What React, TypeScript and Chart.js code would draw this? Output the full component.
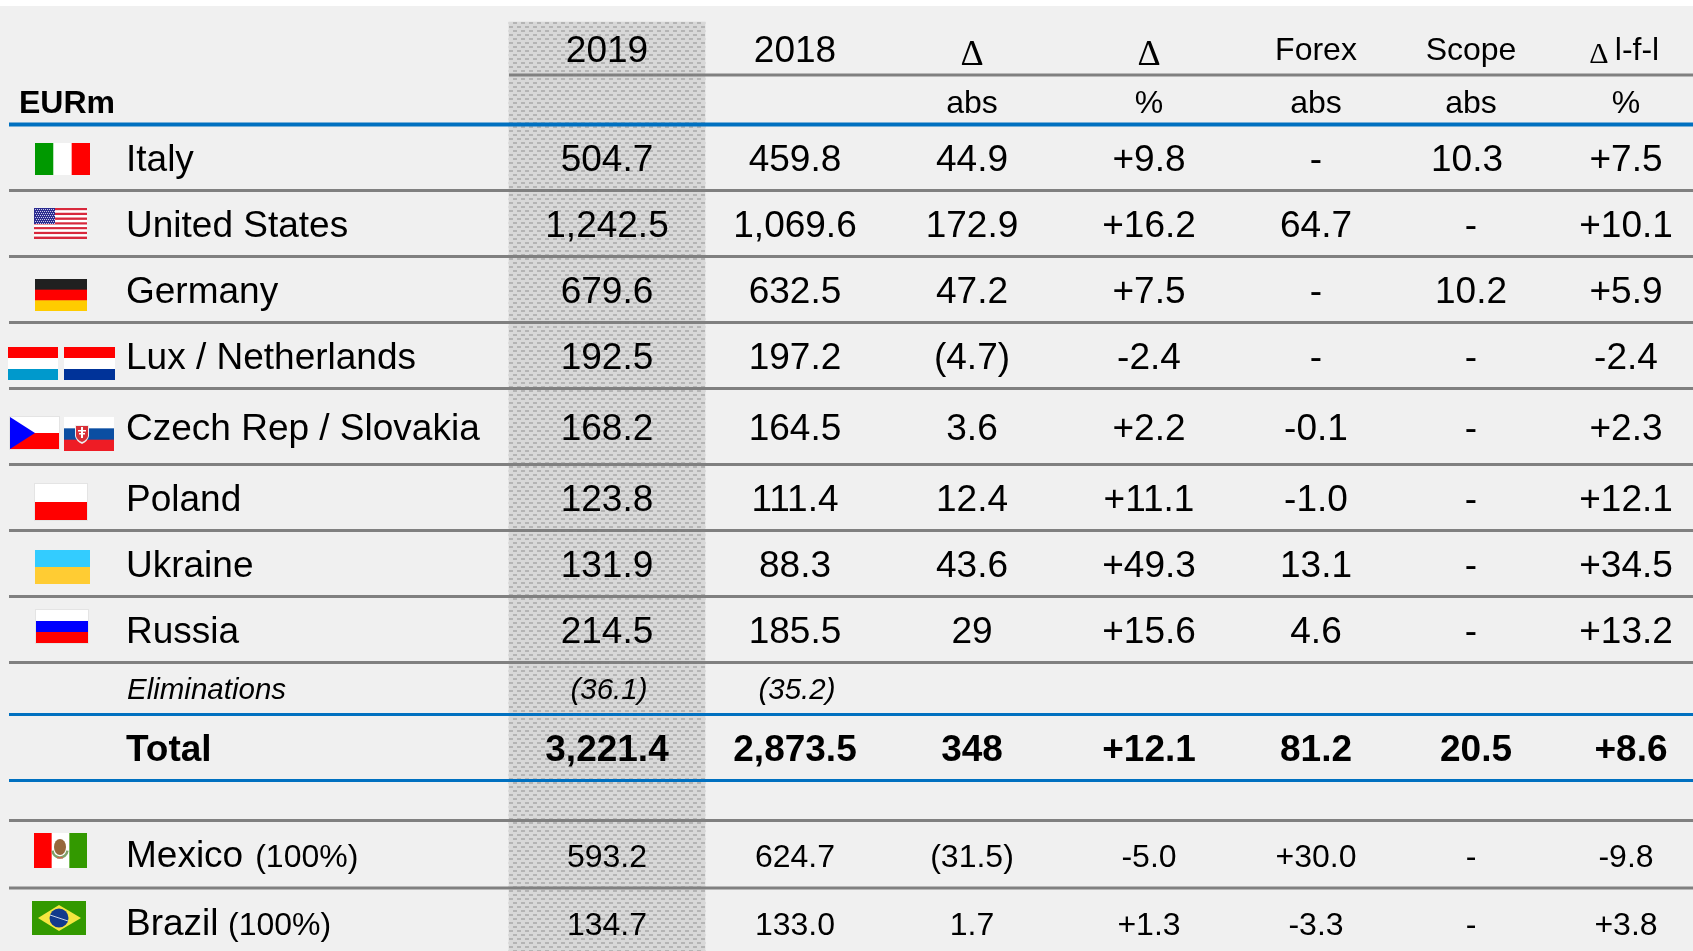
import React, { useEffect, useRef } from "react";
import { Chart, registerables } from "chart.js";

Chart.register(...registerables);

// ---------- table content ----------
const rowNames = ["Italy", "United States", "Germany", "Lux / Netherlands", "Czech Rep / Slovakia", "Poland", "Ukraine", "Russia", "Eliminations", "Total", "Mexico", "Brazil"];
const rowNotes = ["", "", "", "", "", "", "", "", "", "", "(100%)", "(100%)"];
const values2019 = ["504.7", "1,242.5", "679.6", "192.5", "168.2", "123.8", "131.9", "214.5", "(36.1)", "3,221.4", "593.2", "134.7"];
const values2018 = ["459.8", "1,069.6", "632.5", "197.2", "164.5", "111.4", "88.3", "185.5", "(35.2)", "2,873.5", "624.7", "133.0"];
const deltaAbs = ["44.9", "172.9", "47.2", "(4.7)", "3.6", "12.4", "43.6", "29", "", "348", "(31.5)", "1.7"];
const deltaPct = ["+9.8", "+16.2", "+7.5", "-2.4", "+2.2", "+11.1", "+49.3", "+15.6", "", "+12.1", "-5.0", "+1.3"];
const forexAbs = ["-", "64.7", "-", "-", "-0.1", "-1.0", "13.1", "4.6", "", "81.2", "+30.0", "-3.3"];
const scopeAbs = ["10.3", "-", "10.2", "-", "-", "-", "-", "-", "", "20.5", "-", "-"];
const lflPct = ["+7.5", "+10.1", "+5.9", "-2.4", "+2.3", "+12.1", "+34.5", "+13.2", "", "+8.6", "-9.8", "+3.8"];
const headerTop = ["2019", "2018", "Δ", "Δ", "Forex", "Scope", "l-f-l"];
const headerSub = ["", "", "abs", "%", "abs", "abs", "%"];
const lflSign = "Δ";
const unitLabel = "EURm";

// ---------- layout (page pixels used as scale units) ----------
const W = 1693;
const H = 951;
const colX = [607, 795, 972, 1149, 1316, 1471, 1626];
const elimNudge = [0, 0, 0, 0, 0, 0, 0, 0, 2, 0, 0, 0];
const scopeNudge = [-4, 0, 0, 0, 0, 0, 0, 0, 0, 5, 0, 0];
const lflNudge = [0, 0, 0, 0, 0, 0, 0, 0, 0, 5, 0, 0];
const noteGap = [0, 0, 0, 0, 0, 0, 0, 0, 0, 0, 12, 9.5];
const rowBase = [171, 237, 303, 369, 439.5, 511, 577, 643, 699, 761, 867, 934.5];
const greyRules = [190.5, 256.5, 322.5, 388.5, 464.5, 530.5, 596.5, 662.5, 820.5, 888];
const blueRules = [714.5, 780.5];
const HEAD_BLUE_Y = 124.5;
const RULE_LEFT = 9;
const HEADER_RULE_Y = 75;
const NAME_X = 126;
const SHADE = { x: 607, top: 22, bottom: 951, width: 196 };

type Cell = { x: number; y: number; t: string };
const column = (vals: string[], x: number, nudge?: number[]): Cell[] =>
  vals.map((t, i) => ({ x: x + (nudge ? nudge[i] : 0), y: rowBase[i], t }));

function rowFont(i: number) {
  if (i === 8) return 'italic 29.5px "Liberation Sans"';
  if (i === 9) return 'bold 37px "Liberation Sans"';
  if (i >= 10) return '32px "Liberation Sans"';
  return '37px "Liberation Sans"';
}

function stripesH(c: CanvasRenderingContext2D, x0: number, y0: number, x1: number, y1: number, cols: string[]) {
  const h = (y1 - y0) / cols.length;
  cols.forEach((col, i) => { c.fillStyle = col; c.fillRect(x0, y0 + i * h, x1 - x0, i === cols.length - 1 ? h : h + 0.5); });
}
function stripesV(c: CanvasRenderingContext2D, x0: number, y0: number, x1: number, y1: number, cols: string[]) {
  const w = (x1 - x0) / cols.length;
  cols.forEach((col, i) => { c.fillStyle = col; c.fillRect(x0 + i * w, y0, i === cols.length - 1 ? w : w + 0.5, y1 - y0); });
}

function drawFlags(c: CanvasRenderingContext2D) {
  stripesV(c, 35, 143, 90, 175, ["#009900", "#ffffff", "#ff0000"]);
  // United States
  for (let i = 0; i < 13; i++) { c.fillStyle = i % 2 ? "#ffffff" : "#d8283c"; c.fillRect(34, 208 + (i * 31) / 13, 53, 31 / 13); }
  c.fillStyle = "#2c2c90"; c.fillRect(34, 208, 21, 16);
  c.fillStyle = "#c8c8e8";
  for (let y = 209; y < 224; y += 2) for (let x = 35 + (y % 4 === 1 ? 0 : 1); x < 55; x += 2) c.fillRect(x, y, 1, 1);
  stripesH(c, 35, 279, 87, 311, ["#202020", "#ff0000", "#ffcc00"]);
  stripesH(c, 8, 347, 58, 380, ["#ff0000", "#ffffff", "#0099cc"]);
  stripesH(c, 64, 347, 115, 380, ["#ff0000", "#ffffff", "#003399"]);
  // Czech Republic
  c.fillStyle = "#e4e4e4"; c.fillRect(9, 416, 51, 34);
  stripesH(c, 10, 417, 59, 449, ["#ffffff", "#ff0000"]);
  c.fillStyle = "#0000ff"; c.beginPath(); c.moveTo(10, 417); c.lineTo(35, 433); c.lineTo(10, 449); c.closePath(); c.fill();
  // Slovakia
  stripesH(c, 64, 417, 114, 451, ["#ffffff", "#0b4ea2", "#ee1c25"]);
  c.fillStyle = "#eeeeee"; c.beginPath(); c.moveTo(75, 425); c.lineTo(89, 425); c.lineTo(89, 436); c.quadraticCurveTo(88, 441, 82, 444); c.quadraticCurveTo(76, 441, 75, 436); c.closePath(); c.fill();
  c.fillStyle = "#d83038"; c.beginPath(); c.moveTo(76, 426); c.lineTo(88, 426); c.lineTo(88, 436); c.quadraticCurveTo(87, 440, 82, 442); c.quadraticCurveTo(77, 440, 76, 436); c.closePath(); c.fill();
  c.fillStyle = "#ffffff"; c.fillRect(81, 427, 2, 11); c.fillRect(78, 430, 8, 1.5); c.fillRect(79, 433, 6, 1.5);
  // Poland
  c.fillStyle = "#e4e4e4"; c.fillRect(34, 483, 54, 38);
  stripesH(c, 35, 484, 87, 520, ["#ffffff", "#ff0000"]);
  stripesH(c, 35, 550, 90, 584, ["#33ccff", "#ffcc33"]);
  c.fillStyle = "#e4e4e4"; c.fillRect(35, 609, 54, 35);
  stripesH(c, 36, 610, 88, 643, ["#ffffff", "#0000ff", "#ff0000"]);
  // Mexico
  stripesV(c, 34, 833, 87, 868, ["#ff0000", "#ffffff", "#339900"]);
  c.strokeStyle = "#7f9f68"; c.lineWidth = 2.5; c.beginPath(); c.arc(60, 850, 7.5, 0.1, Math.PI - 0.1); c.stroke();
  c.fillStyle = "#96683c"; c.beginPath(); c.ellipse(60, 847, 6, 8, 0, 0, Math.PI * 2); c.fill();
  c.fillStyle = "#c86a50"; c.fillRect(57, 857, 6, 1.5);
  // Brazil
  c.fillStyle = "#339900"; c.fillRect(32, 901, 54, 34);
  c.fillStyle = "#f4e640"; c.beginPath(); c.moveTo(38, 918); c.lineTo(59, 905); c.lineTo(81, 918); c.lineTo(59, 931); c.closePath(); c.fill();
  c.fillStyle = "#123a8c"; c.beginPath(); c.arc(59, 918, 9.5, 0, Math.PI * 2); c.fill();
  c.strokeStyle = "#c8d4e8"; c.lineWidth = 1; c.beginPath(); c.moveTo(50, 915); c.lineTo(68, 921); c.stroke();
}

function makePattern(c: CanvasRenderingContext2D) {
  const p = document.createElement("canvas");
  p.width = 8; p.height = 8;
  const g = p.getContext("2d")!;
  g.fillStyle = "#d8d8d8"; g.fillRect(0, 0, 8, 8);
  g.fillStyle = "#b4b4b4";
  g.fillRect(1, 6, 4, 2);
  g.fillRect(5, 2, 3, 2);
  g.fillRect(0, 2, 1, 2);
  return c.createPattern(p, "repeat")!;
}

const pagePlugin = {
  id: "page",
  beforeDraw(chart: any) {
    const c = chart.ctx as CanvasRenderingContext2D;
    c.save();
    c.fillStyle = "#ffffff"; c.fillRect(0, 0, W, H);
    c.fillStyle = "#f0f0f0"; c.fillRect(0, 6, W, H - 6);
    c.restore();
  },
};

const cellPlugin = {
  id: "cells",
  afterDatasetsDraw(chart: any) {
    const c = chart.ctx as CanvasRenderingContext2D;
    c.save();
    c.fillStyle = "#000000";
    c.textBaseline = "alphabetic";
    chart.data.datasets.forEach((ds: any, di: number) => {
      if (!ds.cellFont) return;
      chart.getDatasetMeta(di).data.forEach((el: any, i: number) => {
        const cell = ds.data[i] as Cell;
        if (!cell.t) return;
        c.font = ds.cellFont(i);
        c.textAlign = ds.cellAlign || "center";
        c.fillText(cell.t, el.x, el.y);
      });
    });
    drawFlags(c);
    c.restore();
  },
};

function noteCells(): Cell[] {
  const m = document.createElement("canvas").getContext("2d")!;
  m.font = '37px "Liberation Sans"';
  return rowNotes.map((t, i) => ({ x: NAME_X + m.measureText(rowNames[i]).width + noteGap[i], y: rowBase[i], t }));
}

export default function App() {
  const ref = useRef<HTMLCanvasElement>(null);
  useEffect(() => {
    const canvas = ref.current!;
    const ctx = canvas.getContext("2d")!;
    const rule = (y: number, left: number) => [{ x: left, y }, { x: W, y }];
    const ruleSet = (y: number, left: number, color: string, width = 3) => ({
      type: "line", data: rule(y, left), borderColor: color, borderWidth: width, pointRadius: 0, order: 1, clip: false,
    });
    const headerFont = (i: number) => {
      if (i < 2) return '37px "Liberation Sans"';
      if (i < 4) return '36px "Liberation Serif"';
      return '32px "Liberation Sans"';
    };
    const textSet = (cells: Cell[], font: (i: number) => string, align = "center") => ({
      type: "scatter", data: cells, pointRadius: 0, showLine: false, order: 0, cellFont: font, cellAlign: align,
    });
    const chart = new Chart(canvas, {
      type: "bar",
      data: {
        datasets: [
          {
            type: "bar",
            data: [{ x: SHADE.x, y: [SHADE.top, SHADE.bottom] }],
            backgroundColor: makePattern(ctx),
            barThickness: SHADE.width,
            borderWidth: 0,
            order: 2,
          },
          ...greyRules.map((y) => ruleSet(y, RULE_LEFT, "#808080")),
          ruleSet(HEADER_RULE_Y, SHADE.x - SHADE.width / 2, "#808080"),
          ruleSet(HEAD_BLUE_Y, RULE_LEFT, "#0070c0", 4),
          ...blueRules.map((y) => ruleSet(y, RULE_LEFT, "#0070c0")),
          textSet(headerTop.map((t, i) => ({ x: i === 6 ? colX[i] + 11 : colX[i], y: i < 2 ? 62 : i < 4 ? 65 : 60, t })), headerFont),
          textSet([{ x: 1599, y: 63, t: lflSign }], () => '30px "Liberation Serif"'),
          textSet(headerSub.map((t, i) => ({ x: colX[i], y: 113, t })), () => '32px "Liberation Sans"'),
          textSet([{ x: 19, y: 113, t: unitLabel }], () => 'bold 32px "Liberation Sans"', "left"),
          textSet(rowNames.map((t, i) => ({ x: i === 8 ? NAME_X + 1 : NAME_X, y: rowBase[i], t })),
            (i) => (i === 8 ? 'italic 29.5px "Liberation Sans"' : i === 9 ? 'bold 37px "Liberation Sans"' : '37px "Liberation Sans"'), "left"),
          textSet(noteCells(), () => '32px "Liberation Sans"', "left"),
          textSet(column(values2019, colX[0], elimNudge), rowFont),
          textSet(column(values2018, colX[1], elimNudge), rowFont),
          textSet(column(deltaAbs, colX[2]), rowFont),
          textSet(column(deltaPct, colX[3]), rowFont),
          textSet(column(forexAbs, colX[4]), rowFont),
          textSet(column(scopeAbs, colX[5], scopeNudge), rowFont),
          textSet(column(lflPct, colX[6], lflNudge), rowFont),
        ] as any,
      },
      options: {
        responsive: false,
        animation: false,
        layout: { padding: 0 },
        events: [],
        plugins: { legend: { display: false }, tooltip: { enabled: false }, title: { display: false } },
        scales: {
          x: { type: "linear", min: 0, max: W, display: false, offset: false },
          y: { type: "linear", min: 0, max: H, reverse: true, display: false },
        },
      } as any,
      plugins: [pagePlugin, cellPlugin],
    });
    return () => chart.destroy();
  }, []);
  return (
    <div style={{ position: "absolute", left: 0, top: 0, width: W, height: H }}>
      <canvas ref={ref} width={W} height={H} style={{ display: "block", width: W, height: H }} />
    </div>
  );
}
